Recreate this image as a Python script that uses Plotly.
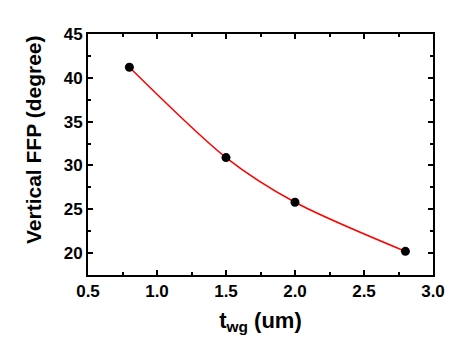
import plotly.graph_objects as go

t_wg = [0.8, 1.5, 2.0, 2.8]
ffp = [41.2, 30.9, 25.8, 20.2]

fig = go.Figure()
fig.add_trace(go.Scatter(x=t_wg, y=ffp, mode="lines", line=dict(color="red", width=1.5, shape="spline", smoothing=0.8), showlegend=False))
fig.add_trace(go.Scatter(x=t_wg, y=ffp, mode="markers", marker=dict(color="black", size=9), showlegend=False))

font = "Liberation Sans, Arial, sans-serif"
axis_common = dict(
    showline=True, linecolor="black", linewidth=2, mirror="allticks",
    ticks="inside", ticklen=5, tickwidth=1.5, tickcolor="black",
    showgrid=False, zeroline=False,
    tickfont=dict(family=font, size=17, color="black", weight="bold"),
)
fig.update_xaxes(range=[0.5, 3.0], dtick=0.5, tickformat=".1f",
                 minor=dict(ticks="inside", dtick=0.25, ticklen=3, tickcolor="black", tickwidth=1.5),
                 title=dict(text="<b>t<sub>wg</sub> (um)</b>", font=dict(family=font, size=22, color="black"), standoff=12),
                 **axis_common)
fig.update_yaxes(range=[17.5, 45], dtick=5,
                 minor=dict(ticks="inside", dtick=2.5, ticklen=3, tickcolor="black", tickwidth=1.5),
                 **axis_common)
fig.add_annotation(text="<b>Vertical FFP (degree)</b>", textangle=-90,
                   xref="paper", yref="paper", x=0, y=0.56, xanchor="center", yanchor="middle",
                   xshift=-55, showarrow=False,
                   font=dict(family=font, size=21, color="black"))
# page body has an 8px margin, so shift the figure accordingly
fig.update_layout(width=458, height=355, margin=dict(l=80, r=33, t=26, b=88),
                  plot_bgcolor="white", paper_bgcolor="white")
fig.write_html("out.html")
